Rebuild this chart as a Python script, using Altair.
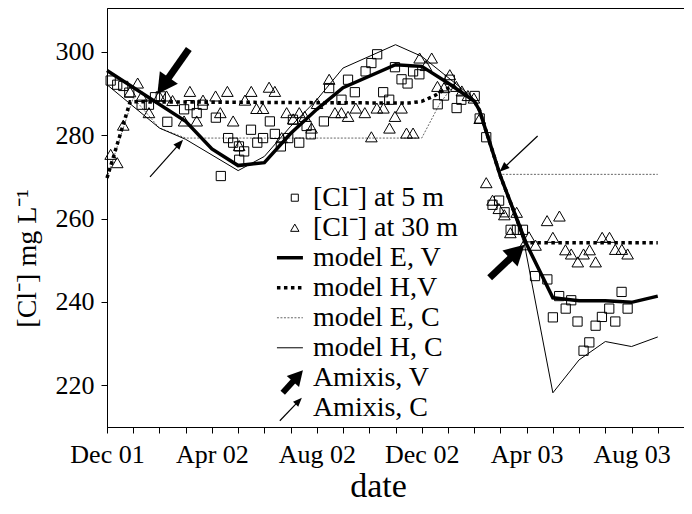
import json
import math
import altair as alt
import pandas as pd

# ---------------- data (x = months since 1 Dec 2001, y = [Cl-] mg/L) ----------------
X_LABELS = ["Dec 01", "Apr 02", "Aug 02", "Dec 02", "Apr 03", "Aug 03"]
Y_TICKS = [220, 240, 260, 280, 300]
X_MAX = 22
Y_MIN, Y_MAX = 210, 310.5

sq_month = [0.14, 0.39, 0.62, 0.85, 1.32, 1.60, 1.83, 2.05, 2.30, 2.94, 3.16, 3.42, 3.65, 4.15,
            4.34, 4.62, 4.81, 5.03, 5.04, 5.23, 5.49, 5.73, 5.95, 6.21, 6.40, 6.63, 6.91, 7.09,
            7.33, 7.61, 7.77, 8.27, 8.47, 8.94, 9.19, 9.45, 9.86, 10.08, 10.30, 10.53, 10.76,
            10.98, 11.23, 11.46, 11.67, 11.91, 12.61, 12.85, 13.07, 13.33, 13.51, 14.02, 14.21,
            14.46, 14.70, 14.95, 15.16, 15.39, 15.63, 15.86, 16.32, 16.79, 17.00, 17.24, 17.49,
            17.70, 17.94, 18.17, 18.39, 18.63, 18.87, 19.15, 19.38, 19.62, 19.85]
sq_cl = [293.1, 292.1, 291.8, 290.2, 287.3, 287.3, 289.1, 289.3, 283.2, 286.2, 287.2, 285.3, 287.3,
         284.2, 270.2, 279.3, 278.2, 277.3, 274.1, 276.1, 281.3, 278.2, 279.3, 283.3, 280.3, 277.3,
         279.3, 283.7, 278.2, 282.2, 280.2, 283.3, 291.3, 288.5, 293.3, 290.3, 295.3, 297.3, 299.4,
         290.3, 288.5, 296.3, 293.4, 292.4, 295.3, 294.6, 287.4, 289.5, 293.3, 286.5, 288.5, 289.4,
         284.0, 279.5, 263.3, 264.3, 261.5, 257.3, 257.3, 257.3, 246.2, 245.4, 236.3, 241.4, 238.4,
         240.4, 235.3, 228.3, 230.3, 234.3, 236.4, 238.4, 235.3, 242.4, 238.4]

tri_month = [0.14, 0.39, 0.62, 0.88, 1.17, 1.32, 1.60, 1.99, 2.27, 2.50, 2.94, 3.16, 3.42, 3.66,
             4.14, 4.32, 4.59, 4.81, 5.04, 5.26, 5.50, 5.70, 5.95, 6.18, 6.40, 6.66, 6.85, 7.10,
             7.33, 7.54, 7.80, 8.01, 8.47, 8.69, 8.94, 9.19, 9.49, 9.83, 10.08, 10.29, 10.54,
             10.77, 10.98, 11.23, 11.42, 11.67, 11.92, 12.16, 12.38, 12.60, 12.85, 13.07, 13.32,
             13.53, 13.76, 13.99, 14.21, 14.46, 14.70, 14.94, 15.15, 15.38, 15.62, 15.90, 16.09,
             16.34, 16.78, 17.00, 17.25, 17.48, 17.70, 17.95, 18.17, 18.40, 18.63, 18.88, 19.16,
             19.38, 19.63, 19.85]
tri_cl = [275.4, 273.4, 282.4, 290.4, 292.5, 289.3, 285.4, 289.4, 289.4, 288.3, 283.4, 290.5, 283.4,
          288.4, 289.4, 285.4, 290.5, 283.4, 277.5, 288.4, 290.5, 286.4, 286.4, 291.5, 290.5, 279.4,
          285.4, 283.9, 285.4, 284.5, 281.7, 287.6, 293.4, 285.4, 285.4, 284.5, 286.5, 285.4, 279.6,
          286.5, 286.5, 281.7, 284.5, 286.5, 280.5, 280.5, 298.5, 296.7, 298.5, 291.7, 291.4, 294.5,
          291.7, 290.6, 289.5, 288.9, 284.0, 268.6, 264.4, 262.4, 260.9, 256.6, 261.5, 253.7, 255.6,
          253.6, 259.5, 255.5, 260.6, 252.5, 251.5, 249.6, 251.5, 252.5, 249.6, 255.5, 255.5, 252.6,
          252.6, 251.5]

ev_month = [0, 3, 4, 5, 6, 7, 8, 9, 11, 12, 13, 14, 14.2, 15, 16, 17, 18, 19, 20, 21]
ev_cl = [295.5, 283.3, 276.7, 272.7, 273.4, 280.4, 286.2, 291.4, 296.9, 296.5, 292.5, 288.2,
         286.0, 270.2, 253.8, 241.0, 240.3, 240.3, 239.9, 241.4]

hv_month = [0, 0.88, 11.5, 12.0, 12.5, 12.8, 13.2, 14, 14.2, 15, 15.97, 21]
hv_cl = [269.7, 288.0, 287.7, 288.1, 289.5, 290.7, 291.8, 288.2, 286.0, 270.2, 254.2, 254.2]

ec_month = [0, 1.0, 2.0, 3.0, 12.0, 12.7, 13.2, 14, 14.2, 14.97, 21]
ec_cl = [269.7, 289.0, 281.7, 279.3, 279.3, 287.7, 291.8, 288.2, 286.0, 270.6, 270.6]

hc_month = [0, 2, 3, 5, 6, 7, 8, 9, 11, 12, 13.9, 14.2, 15, 15.92, 17, 18, 19, 20, 21]
hc_cl = [292.1, 281.7, 279.0, 271.5, 274.9, 282.1, 288.5, 296.1, 301.7, 298.9, 289.3, 286.0,
         270.2, 253.7, 218.2, 226.1, 230.5, 229.3, 231.6]

# annotation arrows (tail -> tip), kind V = thick, C = thin
arrow_kind = ["V", "V", "C", "C"]
arrow_tail_month = [3.12, 14.59, 1.64, 16.42]
arrow_tail_cl = [300.65, 245.8, 270.0, 279.8]
arrow_tip_month = [1.92, 15.92, 2.90, 14.97]
arrow_tip_cl = [289.9, 253.7, 278.9, 271.2]

legend_labels = ["[Cl\u207b] at 5 m", "[Cl\u207b] at 30 m", "model E, V", "model H,V",
                 "model E, C", "model H, C", "Amixis, V", "Amixis, C"]

# ---------------- layout / style ----------------
W, H = 577, 419
PX_M = W / X_MAX
PX_V = H / (Y_MAX - Y_MIN)
FONT = "Liberation Serif"

LEG_TOP, LEG_STEP = 265.0, 7.2       # legend rows (in y units)
LEG_TEXT_X, LEG_SYM_X = 7.85, 7.16
LEG_LINE_X1, LEG_LINE_X2 = 6.48, 7.47

ARROW_STYLE = {"V": dict(head=20, shaft=7), "C": dict(head=10, shaft=1.2)}
LEG_ARROW_STYLE = {"V": dict(head=15, shaft=6), "C": dict(head=9, shaft=1.2)}

xscale = alt.Scale(domain=[0, X_MAX], nice=False, zero=False)
yscale = alt.Scale(domain=[Y_MIN, Y_MAX], nice=False, zero=False)

label_expr = f"datum.value % 4 === 0 ? {json.dumps(X_LABELS)}[datum.value / 4] : ''"
x_axis = alt.Axis(values=list(range(0, X_MAX + 1)), labelExpr=label_expr, labelFlush=False,
                  labelOverlap=False, tickSize=6, labelFontSize=26, labelPadding=8,
                  title="date", titleFontSize=34, titleX=271, titleY=42)
y_axis = alt.Axis(values=Y_TICKS, tickSize=6, labelFontSize=26, labelPadding=7,
                  title="[Cl\u207b] mg L\u207b\u00b9", titleFontSize=28, titleX=-66, titleY=250)


def X(field="m"):
    return alt.X(f"{field}:Q", scale=xscale, axis=x_axis)


def Y(field="v"):
    return alt.Y(f"{field}:Q", scale=yscale, axis=y_axis)


def line_df(ms, vs):
    return pd.DataFrame({"m": ms, "v": vs, "o": list(range(len(ms)))})


line_styles = {
    "ev": dict(stroke="black", strokeWidth=3.5),
    "hv": dict(stroke="black", strokeWidth=3.5, strokeDash=[3.5, 3.5]),
    "ec": dict(stroke="#666666", strokeWidth=1, strokeDash=[2, 1.5]),
    "hc": dict(stroke="black", strokeWidth=1),
}
series = {"ev": (ev_month, ev_cl), "hv": (hv_month, hv_cl),
          "ec": (ec_month, ec_cl), "hc": (hc_month, hc_cl)}

layers = []
for key in ["ec", "hc", "hv", "ev"]:
    ms, vs = series[key]
    layers.append(alt.Chart(line_df(ms, vs)).mark_line(strokeCap="butt", **line_styles[key])
                  .encode(x=X(), y=Y(), order="o:Q"))

sq_df = pd.DataFrame({"m": sq_month, "v": sq_cl})
tri_df = pd.DataFrame({"m": tri_month, "v": tri_cl})
layers.append(alt.Chart(sq_df).mark_point(shape="square", filled=False, stroke="black",
                                          strokeWidth=1, size=85, opacity=1)
              .encode(x=X(), y=Y()))
layers.append(alt.Chart(tri_df).mark_point(shape="triangle-up", filled=False, stroke="black",
                                           strokeWidth=1, size=135, opacity=1)
              .encode(x=X(), y=Y()))

# ---------------- legend ----------------
leg_y = [LEG_TOP - LEG_STEP * i for i in range(len(legend_labels))]
leg_text = pd.DataFrame({"m": [LEG_TEXT_X] * len(legend_labels), "v": leg_y, "t": legend_labels})
layers.append(alt.Chart(leg_text).mark_text(align="left", baseline="middle", font=FONT,
                                            fontSize=28, color="black")
              .encode(x=X(), y=Y(), text="t:N"))
layers.append(alt.Chart(pd.DataFrame({"m": [LEG_SYM_X], "v": [leg_y[0]]}))
              .mark_point(shape="square", filled=False, stroke="black", strokeWidth=1,
                          size=50, opacity=1).encode(x=X(), y=Y()))
layers.append(alt.Chart(pd.DataFrame({"m": [LEG_SYM_X], "v": [leg_y[1]]}))
              .mark_point(shape="triangle-up", filled=False, stroke="black", strokeWidth=1,
                          size=70, opacity=1).encode(x=X(), y=Y()))
for row, key in zip([2, 3, 4, 5], ["ev", "hv", "ec", "hc"]):
    seg = pd.DataFrame({"m": [LEG_LINE_X1, LEG_LINE_X2], "v": [leg_y[row]] * 2, "o": [0, 1]})
    layers.append(alt.Chart(seg).mark_line(strokeCap="butt", **line_styles[key])
                  .encode(x=X(), y=Y(), order="o:Q"))

# legend arrows: pointing up-right, located left of the text rows 6 and 7
leg_arrows = [("V", 6.70, leg_y[6] - 3.6, 7.47, leg_y[6] + 1.8),
              ("C", 6.59, leg_y[7] - 3.1, 7.43, leg_y[7] + 2.4)]

# ---------------- arrows ----------------
shaft_rows, head_rows = [], []


def add_arrow(kind, tm, tv, hm, hv, style):
    dx = (hm - tm) * PX_M
    dy = -(hv - tv) * PX_V
    length = math.hypot(dx, dy)
    head = style[kind]["head"]
    f = 1 - (0.75 * head) / length
    shaft_rows.append({"m": tm, "v": tv, "m2": tm + (hm - tm) * f, "v2": tv + (hv - tv) * f,
                       "sw": style[kind]["shaft"]})
    ang = math.degrees(math.atan2(dx, -dy)) % 360
    head_rows.append({"m": hm, "v": hv, "ang": ang, "sz": (2 * head) ** 2, "kind": kind})


for k, tm, tv, hm, hv in zip(arrow_kind, arrow_tail_month, arrow_tail_cl,
                             arrow_tip_month, arrow_tip_cl):
    add_arrow(k, tm, tv, hm, hv, ARROW_STYLE)
for k, tm, tv, hm, hv in leg_arrows:
    add_arrow(k, tm, tv, hm, hv, LEG_ARROW_STYLE)

shaft_df = pd.DataFrame(shaft_rows)
head_df = pd.DataFrame(head_rows)
layers.append(alt.Chart(shaft_df).mark_rule(color="black", strokeCap="butt")
              .encode(x=X(), y=Y(), x2="m2:Q", y2="v2:Q",
                      strokeWidth=alt.StrokeWidth("sw:Q", scale=None)))
for kind, half in [("V", 0.55), ("C", 0.4)]:
    layers.append(alt.Chart(head_df[head_df.kind == kind])
                  .mark_point(shape=f"M0,0L{half},1L-{half},1Z", filled=True, color="black",
                              opacity=1, strokeWidth=0)
                  .encode(x=X(), y=Y(), angle=alt.Angle("ang:Q", scale=None),
                          size=alt.Size("sz:Q", scale=None)))

chart = (alt.layer(*layers)
         .properties(width=W, height=H,
                     padding={"left": 99, "top": 0, "right": 0, "bottom": 79},
                     autosize=alt.AutoSizeParams(type="none"))
         .configure_view(stroke="black", strokeWidth=1)
         .configure_axis(domainColor="black", tickColor="black", labelColor="black",
                         titleColor="black", labelFont=FONT, titleFont=FONT, grid=False,
                         titleFontWeight="normal", domainWidth=1, tickWidth=1))

chart.save("out.html", embed_options={"renderer": "svg", "actions": False})
